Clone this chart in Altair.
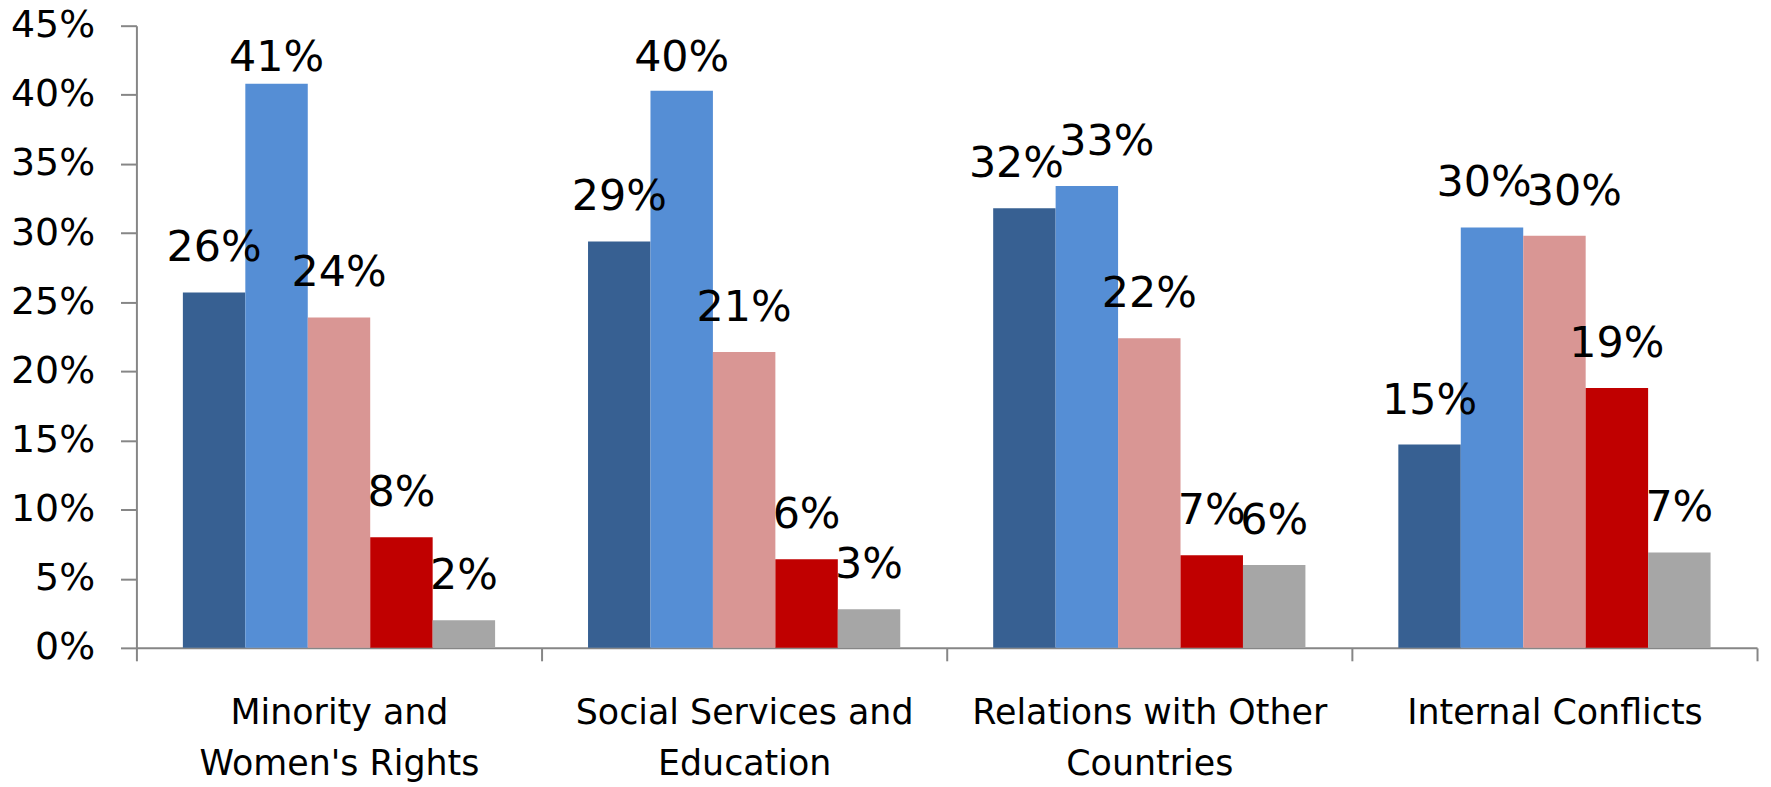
import altair as alt
import pandas as pd

categories = [
    "Minority and\nWomen's Rights",
    "Social Services and\nEducation",
    "Relations with Other\nCountries",
    "Internal Conflicts",
]
series = ["Series 1", "Series 2", "Series 3", "Series 4", "Series 5"]
colors = ["#376092", "#558ED5", "#D99694", "#C00000", "#A6A6A6"]

s1 = [0.257, 0.294, 0.318, 0.147]
s2 = [0.408, 0.403, 0.334, 0.304]
s3 = [0.239, 0.214, 0.224, 0.298]
s4 = [0.080, 0.064, 0.067, 0.188]
s5 = [0.020, 0.028, 0.060, 0.069]

all_series = [s1, s2, s3, s4, s5]

rows = []
for si, (sname, vals) in enumerate(zip(series, all_series)):
    for ci, (c, v) in enumerate(zip(categories, vals)):
        # label collision nudge (like the original's label placement):
        # neighbouring tall bars with nearly equal values push labels apart
        shift = 0
        if si + 1 < len(all_series):
            nv = all_series[si + 1][ci]
            if v >= 0.1 and nv >= 0.1 and abs(v - nv) < 0.02:
                shift = -1
        if si > 0:
            pv = all_series[si - 1][ci]
            if v >= 0.1 and pv >= 0.1 and abs(v - pv) < 0.02:
                shift = 1
        rows.append({"category": c, "series": sname, "value": v, "shift": shift})
df = pd.DataFrame(rows)

FONT = "DejaVu Sans"

x_enc = alt.X(
    "category:N",
    sort=categories,
    scale=alt.Scale(paddingInner=0, paddingOuter=0),
    axis=alt.Axis(
        title=None,
        labelAngle=0,
        labelExpr="split(datum.label, '\\n')",
        labelFont=FONT,
        labelFontSize=35,
        labelColor="black",
        labelLineHeight=51,
        labelPadding=35,
        labelLimit=0,
        tickBand="extent",
        tickSize=13,
        tickWidth=2,
        tickColor="#868686",
        domainColor="#868686",
        domainWidth=2,
        grid=False,
    ),
)
xo_enc = alt.XOffset(
    "series:N", sort=series, scale=alt.Scale(paddingInner=0, paddingOuter=0.744)
)
color_enc = alt.Color(
    "series:N", sort=series, scale=alt.Scale(domain=series, range=colors), legend=None
)

bars = alt.Chart(df).mark_bar(strokeWidth=0).encode(
    x=x_enc,
    xOffset=xo_enc,
    y=alt.Y(
        "value:Q",
        scale=alt.Scale(domain=[0, 0.45], nice=False),
        axis=alt.Axis(
            title=None,
            format=".0%",
            values=[0, 0.05, 0.1, 0.15, 0.2, 0.25, 0.3, 0.35, 0.4, 0.45],
            labelFont=FONT,
            labelFontSize=38,
            labelColor="black",
            labelPadding=26,
            tickSize=16,
            tickWidth=2,
            tickColor="#868686",
            domainColor="#868686",
            domainWidth=2,
            grid=False,
        ),
    ),
    color=color_enc,
)


def label_layer(shift_value, dx):
    return alt.Chart(df).transform_filter(
        f"datum.shift == {shift_value}"
    ).transform_calculate(
        label_y="min(datum.value + 0.0225, 0.417)"
    ).mark_text(
        font=FONT, fontSize=43, color="black", baseline="alphabetic",
        align="center", dx=dx
    ).encode(
        x=alt.X("category:N", sort=categories),
        xOffset=alt.XOffset("series:N", sort=series),
        y=alt.Y("label_y:Q"),
        text=alt.Text("value:Q", format=".0%"),
    )


chart = alt.layer(
    bars, label_layer(0, 0), label_layer(-1, -8), label_layer(1, 20)
).properties(
    width=1628,
    height=625,
    autosize=alt.AutoSizeParams(type="none"),
    padding={"left": 129, "top": 16, "right": 6, "bottom": 138},
).configure(background="white").configure_view(stroke=None)

chart.save("out.html", embed_options={"renderer": "svg", "actions": False})
